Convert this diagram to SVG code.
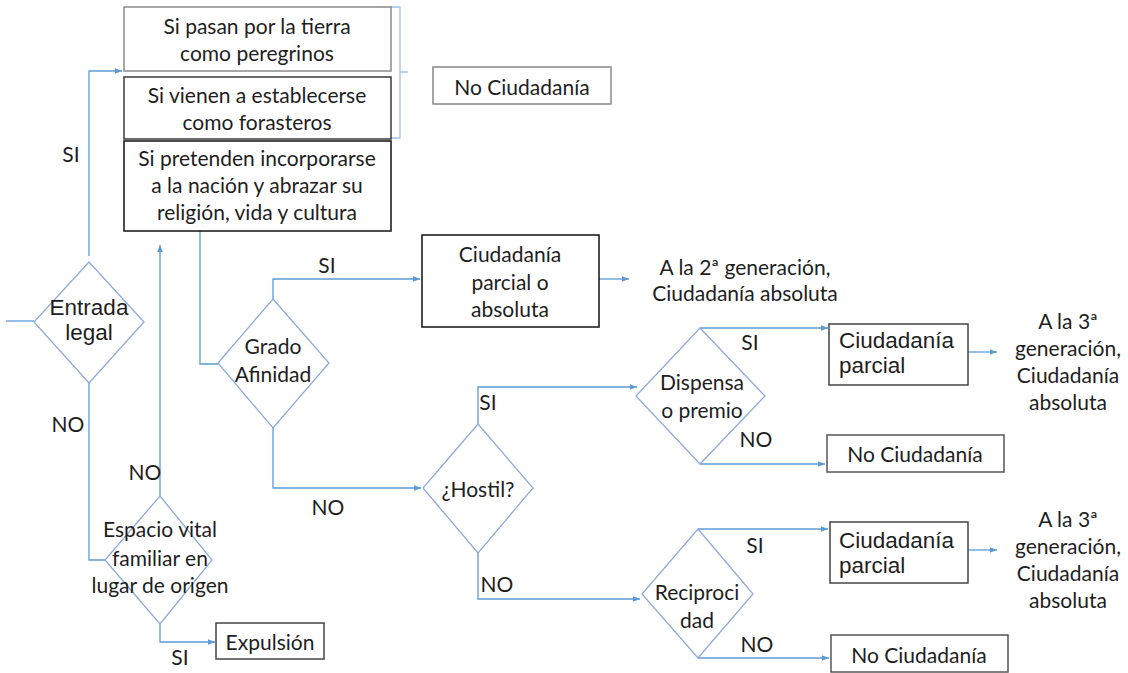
<svg xmlns="http://www.w3.org/2000/svg" width="1128" height="673" viewBox="0 0 1128 673">
<style>
.t{font-family:Lato,"Carlito","Open Sans",sans-serif;font-size:21px;fill:#1e1e1e;text-anchor:middle}
.a{font-family:"Liberation Sans",Arial,sans-serif;fill:#1e1e1e}
.c{fill:none;stroke:#5B9BD5;stroke-width:1.3}
.d{fill:#fff;stroke:#8FAADC;stroke-width:1.3}
.b{fill:#fff;stroke-width:1.5}
</style>
<defs>
<marker id="ar" viewBox="0 0 10 10" refX="10" refY="5" markerWidth="7" markerHeight="7" markerUnits="userSpaceOnUse" orient="auto"><path d="M0,1 L10,5 L0,9 z" fill="#5B9BD5"/></marker>
</defs>
<rect width="1128" height="673" fill="#fff"/>
<g id="connectors">
<path class="c" d="M6,321 H34"/>
<path class="c" d="M89,256 V71 H122" marker-end="url(#ar)"/>
<path class="c" d="M89,383 V560 H105"/>
<path class="c" d="M160,496 V245" marker-end="url(#ar)"/>
<path class="c" d="M160,624 V642 H215" marker-end="url(#ar)"/>
<path class="c" d="M200,231 V364 H218"/>
<path class="c" d="M273,299 V279 H420" marker-end="url(#ar)"/>
<path class="c" d="M599,279 H629" marker-end="url(#ar)"/>
<path class="c" d="M273,428 V488 H421" marker-end="url(#ar)"/>
<path class="c" d="M478,424 V387 H637" marker-end="url(#ar)"/>
<path class="c" d="M478,553 V599 H640" marker-end="url(#ar)"/>
<path class="c" d="M700,328 H828" marker-end="url(#ar)"/>
<path class="c" d="M700,464 H825" marker-end="url(#ar)"/>
<path class="c" d="M968,352 H997" marker-end="url(#ar)"/>
<path class="c" d="M698,529 H828" marker-end="url(#ar)"/>
<path class="c" d="M698,658 H829" marker-end="url(#ar)"/>
<path class="c" d="M968,550 H997" marker-end="url(#ar)"/>
<path fill="none" stroke="#9DC3E6" stroke-width="1.3" d="M391,7 H400 V138 H391 M400,72 H408"/>
</g>
<g id="box-peregrinos"><rect class="b" x="124" y="7" width="267" height="64" stroke="#8a8a8a"/><text class="t" x="257" y="34">Si pasan por la tierra</text><text class="t" x="257" y="61">como peregrinos</text></g>
<g id="box-forasteros"><rect class="b" x="124" y="77" width="267" height="62" stroke="#3a3a3a"/><text class="t" x="257" y="103">Si vienen a establecerse</text><text class="t" x="257" y="130">como forasteros</text></g>
<g id="box-incorporarse"><rect class="b" x="124" y="141" width="267" height="90" stroke="#111"/><text class="t" x="257" y="166">Si pretenden incorporarse</text><text class="t" x="257" y="193">a la nación y abrazar su</text><text class="t" x="257" y="220">religión, vida y cultura</text></g>
<g id="no-ciudadania-1"><rect class="b" x="433" y="67" width="178" height="37" stroke="#888"/><text class="t" x="522" y="95">No Ciudadanía</text></g>
<g id="entrada-legal"><path class="d" d="M89,262 L144,322 L89,383 L34,322 Z"/><text class="a" x="89" y="315" font-size="22.5" text-anchor="middle">Entrada</text><text class="a" x="89" y="340" font-size="22.5" text-anchor="middle">legal</text></g>
<g id="espacio-vital"><path class="d" d="M160,496 L212,560 L160,624 L105,560 Z"/><text class="t" x="160" y="537">Espacio vital</text><text class="t" x="160" y="566">familiar en</text><text class="t" x="160" y="593">lugar de origen</text></g>
<g id="expulsion"><rect class="b" x="216" y="623" width="108" height="36" stroke="#444"/><text class="t" x="270" y="650">Expulsión</text></g>
<g id="grado-afinidad"><path class="d" d="M273,299 L329,363 L273,428 L218,363 Z"/><text class="t" x="273" y="354">Grado</text><text class="t" x="273" y="382">Afinidad</text></g>
<g id="ciudadania-parcial-absoluta"><rect class="b" x="422" y="235" width="177" height="92" stroke="#111"/><text class="t" x="510" y="262">Ciudadanía</text><text class="t" x="510" y="290">parcial o</text><text class="t" x="510" y="317">absoluta</text></g>
<g id="segunda-generacion"><text class="t" x="745" y="275">A la 2ª generación,</text><text class="t" x="745" y="301">Ciudadanía absoluta</text></g>
<g id="hostil"><path class="d" d="M478,424 L533,488 L478,553 L423,488 Z"/><text class="t" x="478" y="497">¿Hostil?</text></g>
<g id="dispensa"><path class="d" d="M700,328 L765,396 L700,464 L636,396 Z"/><text class="t" x="702" y="390">Dispensa</text><text class="t" x="702" y="418">o premio</text></g>
<g id="ciudadania-parcial-1"><rect class="b" x="829" y="324" width="139" height="61" stroke="#444"/><text class="a" x="839" y="348" font-size="22.5">Ciudadanía</text><text class="a" x="839" y="373" font-size="22.5">parcial</text></g>
<g id="tercera-generacion-1"><text class="t" x="1068" y="329">A la 3ª</text><text class="t" x="1068" y="356">generación,</text><text class="t" x="1068" y="383">Ciudadanía</text><text class="t" x="1068" y="410">absoluta</text></g>
<g id="no-ciudadania-2"><rect class="b" x="827" y="435" width="177" height="37" stroke="#555"/><text class="t" x="915" y="462">No Ciudadanía</text></g>
<g id="reciprocidad"><path class="d" d="M698,529 L753,594 L698,658 L642,594 Z"/><text class="t" x="697" y="600">Reciproci</text><text class="t" x="697" y="628">dad</text></g>
<g id="ciudadania-parcial-2"><rect class="b" x="830" y="522" width="138" height="61" stroke="#444"/><text class="a" x="839" y="548" font-size="22.5">Ciudadanía</text><text class="a" x="839" y="573" font-size="22.5">parcial</text></g>
<g id="tercera-generacion-2"><text class="t" x="1068" y="527">A la 3ª</text><text class="t" x="1068" y="554">generación,</text><text class="t" x="1068" y="581">Ciudadanía</text><text class="t" x="1068" y="608">absoluta</text></g>
<g id="no-ciudadania-3"><rect class="b" x="831" y="635" width="177" height="37" stroke="#555"/><text class="t" x="919" y="663">No Ciudadanía</text></g>
<g id="labels">
<text class="t" x="71" y="162">SI</text>
<text class="t" x="68" y="432">NO</text>
<text class="t" x="145" y="480">NO</text>
<text class="t" x="180" y="665">SI</text>
<text class="t" x="327" y="273">SI</text>
<text class="t" x="328" y="515">NO</text>
<text class="t" x="488" y="410">SI</text>
<text class="t" x="497" y="592">NO</text>
<text class="t" x="750" y="350">SI</text>
<text class="t" x="756" y="447">NO</text>
<text class="t" x="755" y="553">SI</text>
<text class="t" x="757" y="652">NO</text>
</g>
</svg>
